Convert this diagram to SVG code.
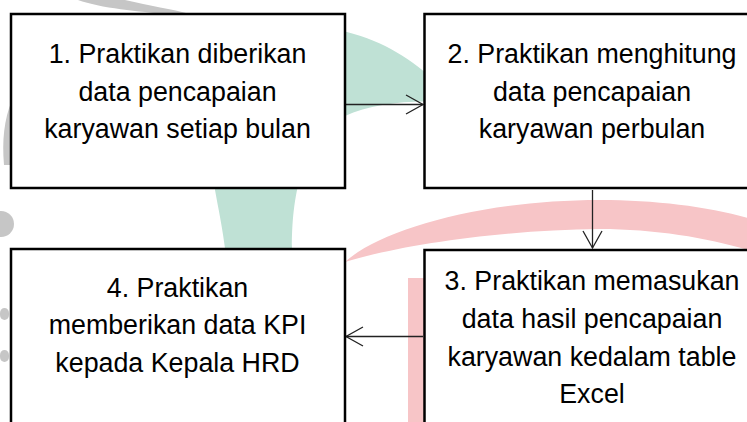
<svg xmlns="http://www.w3.org/2000/svg" width="747" height="422" viewBox="0 0 747 422">
<style>
.box{fill:#ffffff;stroke:#000000;stroke-width:2.5}
.t{font-family:"Liberation Sans",Arial,sans-serif;font-size:26.8px;fill:#000000;text-anchor:middle}
.conn{stroke:#222222;stroke-width:1.3;fill:none}
</style>
<defs>
<marker id="arr" markerUnits="userSpaceOnUse" markerWidth="24" markerHeight="24" viewBox="-20 -12 24 24" refX="0" refY="0" orient="auto">
<path d="M -17 -9.5 L 0 0 L -17 9.5" fill="none" stroke="#222222" stroke-width="1.3"/>
</marker>
</defs>
<rect width="747" height="422" fill="#ffffff"/>
<g id="watermark">
<path d="M 215 190 C 230 60, 300 20, 347 32 C 385 42, 410 58, 440 85 L 440 102 C 410 100, 370 104, 345 116 C 300 140, 292 200, 292 248 L 292 422 L 235 422 C 232 260, 222 230, 215 190 Z" fill="#bfe1d5"/>
<path d="M 345 262 C 380 230, 480 200, 600 200 C 660 200, 720 208, 760 222 L 760 254 C 720 240, 660 229, 600 229 C 500 230, 400 245, 345 262 Z" fill="#f7c5c7"/>
<rect x="408" y="278" width="20" height="150" fill="#f7c5c7"/>
<path d="M 78 0 L 125 0 C 150 6, 172 9, 190 14 L 168 14 C 140 12, 100 8, 78 0 Z" fill="#c6c6c6"/>
<path d="M 12 100 C 4 120, 2 140, 4 165 L 12 165 C 11 140, 12 120, 16 100 Z" fill="#c6c6c6"/>
<circle cx="1" cy="224" r="13" fill="#c6c6c6"/>
<rect x="0" y="308" width="9" height="12" rx="5" fill="#c6c6c6"/>
<rect x="0" y="350" width="9" height="12" rx="5" fill="#c6c6c6"/>
</g>
<g id="connectors">
<line class="conn" x1="346" y1="104.5" x2="423" y2="104.5" marker-end="url(#arr)"/>
<line class="conn" x1="592.5" y1="190" x2="592.5" y2="248" marker-end="url(#arr)"/>
<line class="conn" x1="423" y1="336.5" x2="346" y2="336.5" marker-end="url(#arr)"/>
</g>
<g id="node1">
<rect class="box" x="11" y="14" width="334" height="174"/>
<text class="t" x="177.5" y="63">1. Praktikan diberikan</text>
<text class="t" x="177.5" y="100.5">data pencapaian</text>
<text class="t" x="177.5" y="138">karyawan setiap bulan</text>
</g>
<g id="node2">
<rect class="box" x="424.5" y="14" width="336" height="174"/>
<text class="t" x="592" y="63">2. Praktikan menghitung</text>
<text class="t" x="592" y="100.5">data pencapaian</text>
<text class="t" x="592" y="138">karyawan perbulan</text>
</g>
<g id="node3">
<rect class="box" x="424.5" y="250" width="336" height="200"/>
<text class="t" x="592" y="290">3. Praktikan memasukan</text>
<text class="t" x="592" y="328">data hasil pencapaian</text>
<text class="t" x="592" y="365.5">karyawan kedalam table</text>
<text class="t" x="592" y="403">Excel</text>
</g>
<g id="node4">
<rect class="box" x="11" y="249" width="334" height="200"/>
<text class="t" x="177.5" y="296.5">4. Praktikan</text>
<text class="t" x="177.5" y="334">memberikan data KPI</text>
<text class="t" x="177.5" y="371.5">kepada Kepala HRD</text>
</g>
</svg>
